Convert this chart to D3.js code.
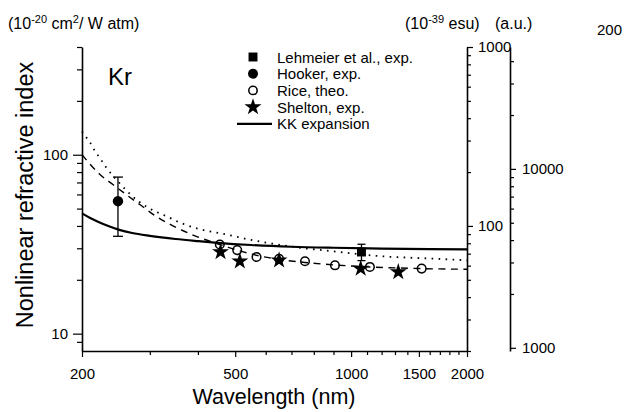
<!DOCTYPE html>
<html>
<head>
<meta charset="utf-8">
<script src="https://cdn.jsdelivr.net/npm/d3@7"></script>
<style>
  html, body { margin: 0; padding: 0; background: #fff; }
  svg { display: block; font-family: "Liberation Sans", Arial, sans-serif; }
</style>
</head>
<body>
<svg id="chart" width="624" height="412"></svg>
<script>
// Kr nonlinear refractive index n2 (10^-20 cm^2/W atm) vs wavelength (nm)

// KK expansion (solid)
const kkWavelength = [200, 210, 220, 235, 250, 270, 300, 350, 400, 450, 550, 700, 900, 1200, 1600, 2000];
const kkN2 = [47, 44.3, 42.2, 39.8, 38.0, 36.5, 35.2, 33.8, 32.9, 32.2, 31.3, 30.6, 30.2, 29.9, 29.7, 29.6];

// Dashed curve
const dashWavelength = [200, 222, 241, 263, 285, 308, 334, 362, 396, 456, 506, 568, 650, 759, 908, 1119, 1525, 2000];
const dashN2 = [100, 78, 68, 59, 52, 46, 41.5, 38, 35, 31.5, 29.3, 27.4, 26.0, 25.0, 24.2, 23.6, 23.1, 22.9];

// Dotted curve
const dotWavelength = [200, 203, 211, 216, 224, 231, 241, 251, 263, 280, 300, 330, 362, 404, 470, 539, 622, 736, 880, 1190, 1606, 2000];
const dotN2 = [135, 129, 115, 105, 94, 85, 76, 69, 62, 55, 50, 45.5, 41.5, 38.4, 36.0, 33.7, 31.9, 30.2, 29.0, 27.1, 26.3, 25.7];

// Rice, theo. (open circles)
const riceWavelength = [456, 506, 568, 650, 759, 908, 1119, 1525];
const riceN2 = [31.5, 29.3, 26.8, 26.2, 25.4, 24.1, 23.6, 23.1];

// Shelton, exp. (stars)
const sheltonWavelength = [458, 514, 650, 1059, 1326];
const sheltonN2 = [28.6, 25.4, 25.7, 23.1, 22.1];

// Hooker, exp. (filled circle with error bar)
const hookerWavelength = [248];
const hookerN2 = [55];
const hookerLow = [35];
const hookerHigh = [75];

// Lehmeier et al., exp. (filled square with error bar)
const lehmeierWavelength = [1064];
const lehmeierN2 = [28.6];
const lehmeierLow = [25.6];
const lehmeierHigh = [31.6];

// Axis ticks
const xTicks = [200, 300, 400, 500, 600, 700, 800, 900, 1000, 1100, 1200, 1300, 1400, 1500, 1600, 1700, 1800, 1900, 2000];
const xTickLabels = [200, 500, 1000, 1500, 2000];
const yTicks = [9, 10, 20, 30, 40, 50, 60, 70, 80, 90, 100, 200, 300, 400];
const yTickLabels = [10, 100];
const esuTicks = [20, 30, 40, 50, 60, 70, 80, 90, 100, 200, 300, 400, 500, 600, 700, 800, 900, 1000];
const esuTickLabels = [100, 1000];
const auTicks = [1000, 2000, 3000, 4000, 5000, 6000, 7000, 8000, 9000, 10000, 20000, 30000, 40000];
const auTickLabels = [1000, 10000];

const legendItems = ["Lehmeier et al., exp.", "Hooker, exp.", "Rice, theo.", "Shelton, exp.", "KK expansion"];

const svg = d3.select("#chart");
const plotLeft = 82, plotRight = 467, plotTop = 47, plotBottom = 351;
const auX = 510;

const x = d3.scaleLog().domain([200, 2000]).range([plotLeft, plotRight]);
const y = d3.scaleLog().domain([8, 400]).range([plotBottom, plotTop]);
const yEsu = d3.scaleLog().domain([20, 1000]).range([plotBottom, plotTop]);
const yAu = d3.scaleLog().domain([960, 48000]).range([plotBottom, plotTop]);

const fontTick = 15;

function styleAxis(g, labeled, majorLen, minorLen, sign, horizontal) {
  g.select(".domain").attr("stroke", "#000").attr("stroke-width", 1.6);
  g.selectAll(".tick line").attr("stroke", "#000").attr("stroke-width", 1.2)
    .each(function(d) {
      const len = labeled.includes(d) ? majorLen : minorLen;
      if (horizontal) d3.select(this).attr("y2", sign * len);
      else d3.select(this).attr("x2", sign * len);
    });
  g.selectAll(".tick text").attr("font-size", fontTick).attr("fill", "#000")
    .attr("font-family", "Liberation Sans, Arial, sans-serif");
}

const fmt = labels => d => labels.includes(d) ? String(d) : "";

// bottom axis
const gx = svg.append("g").attr("transform", `translate(0,${plotBottom})`)
  .call(d3.axisBottom(x).tickValues(xTicks).tickFormat(fmt(xTickLabels)).tickSizeOuter(0).tickPadding(11));
styleAxis(gx, xTickLabels, 6, 4, 1, true);

// left axis
const gy = svg.append("g").attr("transform", `translate(${plotLeft},0)`)
  .call(d3.axisLeft(y).tickValues(yTicks).tickFormat(fmt(yTickLabels)).tickSizeOuter(0).tickPadding(8));
styleAxis(gy, yTickLabels, 9, 5, -1, false);

// right axis in 10^-39 esu
const gEsu = svg.append("g").attr("transform", `translate(${plotRight},0)`)
  .call(d3.axisRight(yEsu).tickValues(esuTicks).tickFormat(fmt(esuTickLabels)).tickSizeOuter(0).tickPadding(5));
styleAxis(gEsu, esuTickLabels, 6, 4, 1, false);

// outer axis in atomic units
const gAu = svg.append("g").attr("transform", `translate(${auX},0)`)
  .call(d3.axisRight(yAu).tickValues(auTicks).tickFormat(fmt(auTickLabels)).tickSizeOuter(0).tickPadding(6));
styleAxis(gAu, auTickLabels, 6, 4, 1, false);

// curves
const line = d3.line().x(d => x(d[0])).y(d => y(d[1])).curve(d3.curveMonotoneX);
const plot = svg.append("g");

plot.append("path").datum(d3.zip(dotWavelength, dotN2)).attr("d", line)
  .attr("fill", "none").attr("stroke", "#000").attr("stroke-width", 1.8)
  .attr("stroke-dasharray", "1.6,5.4");
plot.append("path").datum(d3.zip(dashWavelength, dashN2)).attr("d", line)
  .attr("fill", "none").attr("stroke", "#000").attr("stroke-width", 1.4)
  .attr("stroke-dasharray", "7,5.5");
plot.append("path").datum(d3.zip(kkWavelength, kkN2)).attr("d", line)
  .attr("fill", "none").attr("stroke", "#000").attr("stroke-width", 2.2);

// error bars
function errorBars(ws, lo, hi, cap) {
  ws.forEach((w, i) => {
    const cx = x(w);
    plot.append("line").attr("x1", cx).attr("x2", cx).attr("y1", y(lo[i])).attr("y2", y(hi[i]))
      .attr("stroke", "#000").attr("stroke-width", 1.3);
    [lo[i], hi[i]].forEach(v => plot.append("line")
      .attr("x1", cx - cap).attr("x2", cx + cap).attr("y1", y(v)).attr("y2", y(v))
      .attr("stroke", "#000").attr("stroke-width", 1.3));
  });
}
errorBars(hookerWavelength, hookerLow, hookerHigh, 5);
errorBars(lehmeierWavelength, lehmeierLow, lehmeierHigh, 4);

const star = d3.symbol().type(d3.symbolStar).size(90);
const square = d3.symbol().type(d3.symbolSquare).size(80);

// Rice open circles
plot.selectAll(".rice").data(d3.zip(riceWavelength, riceN2)).join("circle")
  .attr("cx", d => x(d[0])).attr("cy", d => y(d[1])).attr("r", 4.3)
  .attr("fill", "none").attr("stroke", "#000").attr("stroke-width", 1.5);

// Shelton stars
plot.selectAll(".shelton").data(d3.zip(sheltonWavelength, sheltonN2)).join("path")
  .attr("d", star).attr("transform", d => `translate(${x(d[0])},${y(d[1])})`).attr("fill", "#000");

// Hooker filled circle
plot.selectAll(".hooker").data(d3.zip(hookerWavelength, hookerN2)).join("circle")
  .attr("cx", d => x(d[0])).attr("cy", d => y(d[1])).attr("r", 5.2).attr("fill", "#000");

// Lehmeier square
plot.selectAll(".lehmeier").data(d3.zip(lehmeierWavelength, lehmeierN2)).join("path")
  .attr("d", square).attr("transform", d => `translate(${x(d[0])},${y(d[1])})`).attr("fill", "#000");

// legend
const legend = svg.append("g");
const lx = 253, ly0 = 57, ldy = 16.7;
legendItems.forEach((name, i) => {
  const cy = ly0 + i * ldy;
  if (i === 0) legend.append("path").attr("d", square).attr("transform", `translate(${lx},${cy})`).attr("fill", "#000");
  if (i === 1) legend.append("circle").attr("cx", lx).attr("cy", cy).attr("r", 5).attr("fill", "#000");
  if (i === 2) legend.append("circle").attr("cx", lx).attr("cy", cy).attr("r", 4.2).attr("fill", "none").attr("stroke", "#000").attr("stroke-width", 1.5);
  if (i === 3) legend.append("path").attr("d", star).attr("transform", `translate(${lx},${cy})`).attr("fill", "#000");
  if (i === 4) legend.append("line").attr("x1", 237).attr("x2", 272).attr("y1", cy).attr("y2", cy).attr("stroke", "#000").attr("stroke-width", 2.2);
  legend.append("text").attr("x", 277).attr("y", cy + 5.5).attr("font-size", 15).text(name);
});

// element label
svg.append("text").attr("x", 108).attr("y", 85).attr("font-size", 24).text("Kr");

// axis titles
svg.append("text").attr("x", 274).attr("y", 404).attr("text-anchor", "middle")
  .attr("font-size", 21.5).text("Wavelength (nm)");
svg.append("text").attr("transform", "translate(33,195) rotate(-90)").attr("text-anchor", "middle")
  .attr("font-size", 23.5).text("Nonlinear refractive index");

// unit labels
function unitLabel(xPos, parts) {
  const t = svg.append("text").attr("x", xPos).attr("y", 29).attr("font-size", 16);
  parts.forEach(p => {
    if (p.sup) t.append("tspan").attr("dy", -6).attr("font-size", 11).text(p.s);
    else t.append("tspan").attr("dy", p.after ? 6 : 0).text(p.s);
  });
}
unitLabel(8, [{s: "(10"}, {s: "-20", sup: true}, {s: " cm", after: true}, {s: "2", sup: true}, {s: "/ W atm)", after: true}]);
unitLabel(405, [{s: "(10"}, {s: "-39", sup: true}, {s: " esu)", after: true}]);
svg.append("text").attr("x", 495).attr("y", 29).attr("font-size", 16).text("(a.u.)");
svg.append("text").attr("x", 597).attr("y", 35).attr("font-size", 15).text("200");
</script>
</body>
</html>
